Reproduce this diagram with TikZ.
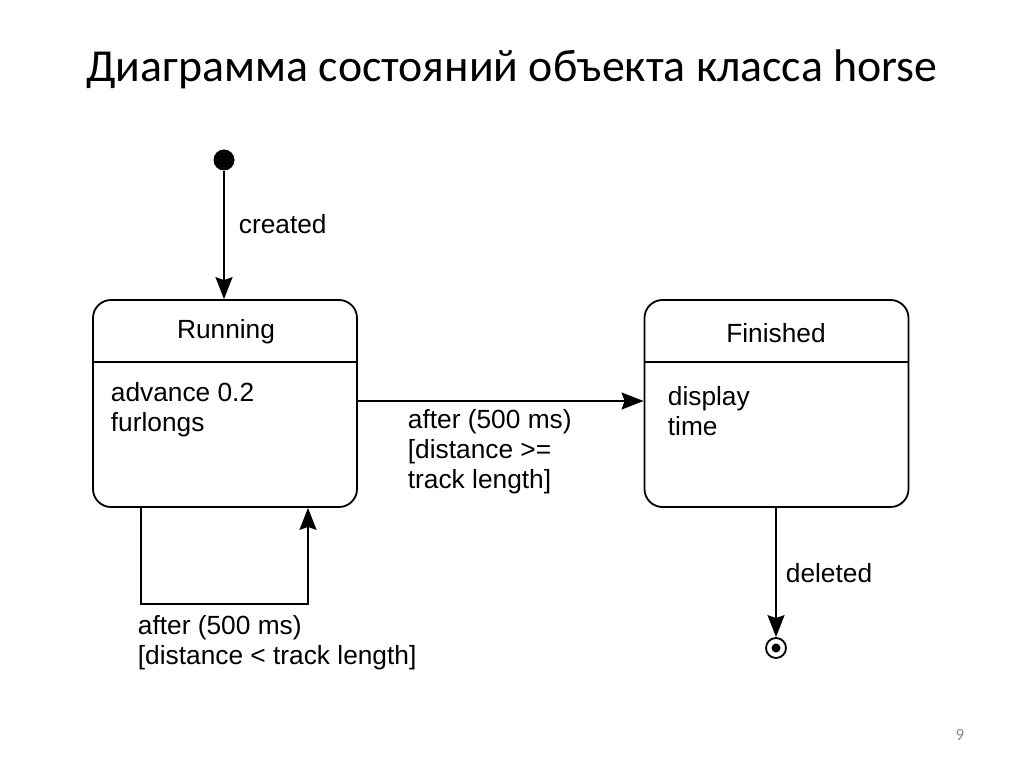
\documentclass[tikz,border=0pt]{standalone}
\usepackage{fontspec}
\setmainfont{Liberation Sans}
\newfontfamily\titlefont{Carlito}
\usetikzlibrary{arrows.meta}
\begin{document}
\begin{tikzpicture}[x=1pt,y=-1pt,
  line width=1.8pt,
  lbl/.style={font=\fontsize{26.3}{30}\selectfont, inner sep=0, align=left},
  statebox/.style={draw, rounded corners=18pt, minimum width=264pt, minimum height=207pt, inner sep=0},
  arr/.style={-{Stealth[length=22pt,width=17pt,inset=3pt]}}
]
\useasboundingbox[fill=white] (0,0) rectangle (1024,767);

\node[font=\titlefont\fontsize{45.8}{54}\selectfont] (title) at (512,69) {Диаграмма состояний объекта класса horse};

% states
\node[statebox] (run) at (225,403.5) {};
\node[statebox] (fin) at (776.5,403.5) {};
\draw (run.west |- 0,362) -- (run.east |- 0,362);
\draw (fin.west |- 0,362) -- (fin.east |- 0,362);

\node[lbl, anchor=center] (runname) at (226,332) {Running};
\node[lbl, anchor=west] (runbody) at (110,410) {advance 0.2\\furlongs};
\node[lbl, anchor=center] (finname) at (776,333) {Finished};
\node[lbl, anchor=west] (finbody) at (667,411) {display\\time};

% initial and final
\node[circle, fill, minimum size=21pt, inner sep=0] (init) at (224,160) {};
\node[circle, draw, line width=1.8pt, minimum size=20pt, inner sep=0] (final) at (776,648) {};
\node[circle, fill, minimum size=9pt, inner sep=0] (finaldot) at (776,648) {};

% transitions
\draw[arr] (init) -- (init |- run.north);
\node[lbl, anchor=west] (created) at (238,224) {created};

\coordinate (h1) at (0,401);
\draw[arr] (run.east |- h1) -- (fin.west |- h1);
\node[lbl, anchor=north west] (lbl2) at (407,409) {after (500 ms)\\{}[distance >=\\track length]};

\coordinate (l1) at (141,604);
\coordinate (l2) at (308,604);
\draw[arr] (l1 |- run.south) -- (l1) -- (l2) -- (l2 |- run.south);
\node[lbl, anchor=north west] (lbl3) at (137,615) {after (500 ms)\\{}[distance < track length]};

\draw[arr] (fin.south -| final) -- (final.north);
\node[lbl, anchor=west] (deleted) at (785,573) {deleted};

\node[font=\titlefont\fontsize{17}{20}\selectfont, text=black!45] (page) at (960,735) {9};
\end{tikzpicture}
\end{document}
